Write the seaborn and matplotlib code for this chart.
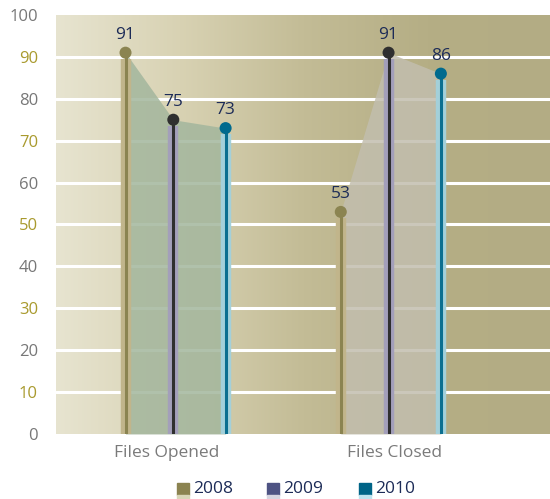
import numpy as np
import pandas as pd
import matplotlib
matplotlib.use("Agg")
import matplotlib.pyplot as plt
from matplotlib.colors import LinearSegmentedColormap
import seaborn as sns

# --- data ---------------------------------------------------------------
categories = ["Files Opened", "Files Closed"]
years = ["2008", "2009", "2010"]
values_2008 = [91, 53]
values_2009 = [75, 91]
values_2010 = [73, 86]
y_ticks = [0, 10, 20, 30, 40, 50, 60, 70, 80, 90, 100]

# --- styling --------------------------------------------------------------
sns.set_theme(style="white")
plt.rcParams["font.family"] = ["Open Sans", "DejaVu Sans"]

year_offset = {"2008": -0.222, "2009": 0.0, "2010": 0.243}
marker_col = {"2008": "#8b8451", "2009": "#2f2f2f", "2010": "#006a8e"}
stem_col = {"2008": "#8b8451", "2009": "#2f2f2f", "2010": "#0b6f90"}
band_col = {"2008": "#c1b58b", "2009": "#a39fba", "2010": "#a3d0da"}
legend_col = {"2008": "#8b8350", "2009": "#4e5383", "2010": "#006487"}
legend_shadow = {"2008": "#d9d6b8", "2009": "#d6d4e0", "2010": "#bfe3ef"}
fill_col = ["#a3b69d", "#c2beae"]
label_col = "#1c2b57"

rows = []
for ci, cat in enumerate(categories):
    for yr, vals in zip(years, [values_2008, values_2009, values_2010]):
        rows.append({"category": cat, "year": yr, "value": vals[ci],
                     "x": ci + year_offset[yr]})
df = pd.DataFrame(rows)

fig = plt.figure(figsize=(5.5, 4.99), dpi=100)
ax = fig.add_axes([0.1018, 0.1303, 0.8982, 0.8397])

xmin, xmax = -0.545, 1.75
ax.set_xlim(xmin, xmax)
ax.set_ylim(0, 100)

# horizontal background gradient
bg = LinearSegmentedColormap.from_list(
    "bg", ["#e7e4d0", "#d8d2b3", "#c3bc96", "#b5ae85", "#b3ac84"])
grad = np.linspace(0, 1, 256).reshape(1, -1)
ax.imshow(grad, extent=[xmin, xmax, 0, 100], aspect="auto", cmap=bg,
          zorder=0, interpolation="bicubic")

# white gridlines
for t in y_ticks[1:-1]:
    ax.axhline(t, color="white", lw=2.2, zorder=1)

# shaded profile joining the tops of each group
for ci, cat in enumerate(categories):
    sub = df[df["category"] == cat].sort_values("x")
    xs = sub["x"].to_numpy()
    ys = sub["value"].to_numpy()
    ax.fill_between(xs, 0, ys, color=fill_col[ci], alpha=0.85, lw=0, zorder=2)

# stems: a light band with a dark core
for _, r in df.iterrows():
    ax.vlines(r["x"], 0, r["value"] - 1.5, color=band_col[r["year"]],
              lw=7.5, zorder=3)
    ax.vlines(r["x"], 0, r["value"], color=stem_col[r["year"]],
              lw=2.2, zorder=4)

# markers
sns.scatterplot(data=df, x="x", y="value", hue="year", palette=marker_col,
                s=75, edgecolor="none", legend=False, ax=ax, zorder=5,
                clip_on=False)

# value labels
for _, r in df.iterrows():
    ax.annotate(f"{r['value']}", (r["x"], r["value"]), xytext=(0, 7),
                textcoords="offset points", ha="center", va="bottom",
                fontsize=12.5, color=label_col, zorder=6)

# axes
ax.set_yticks(y_ticks)
ax.set_yticklabels([str(t) for t in y_ticks], fontsize=12)
for t, lab in zip(y_ticks, ax.get_yticklabels()):
    lab.set_color("#777777" if t % 20 == 0 else "#a99a2e")
ax.tick_params(axis="y", length=0, pad=13)
ax.set_xticks([0 - 0.03, 1 + 0.03])
ax.set_xticklabels(categories, fontsize=12.5, color="#7a7a7a")
ax.tick_params(axis="x", length=0, pad=8)
ax.set_xlabel("")
ax.set_ylabel("")
for s in ax.spines.values():
    s.set_visible(False)

# legend: coloured squares with a pale strip under each
leg_items = [("2008", 0.322), ("2009", 0.485), ("2010", 0.653)]
for yr, lx in leg_items:
    fig.patches.append(plt.Rectangle((lx, 0.009), 0.022, 0.024,
                                     transform=fig.transFigure,
                                     color=legend_col[yr]))
    fig.patches.append(plt.Rectangle((lx, 0.0), 0.022, 0.008,
                                     transform=fig.transFigure,
                                     color=legend_shadow[yr]))
    fig.text(lx + 0.029, 0.021, yr, fontsize=12.5, color=label_col,
             va="center", ha="left")

fig.savefig("out.png", dpi=100)
